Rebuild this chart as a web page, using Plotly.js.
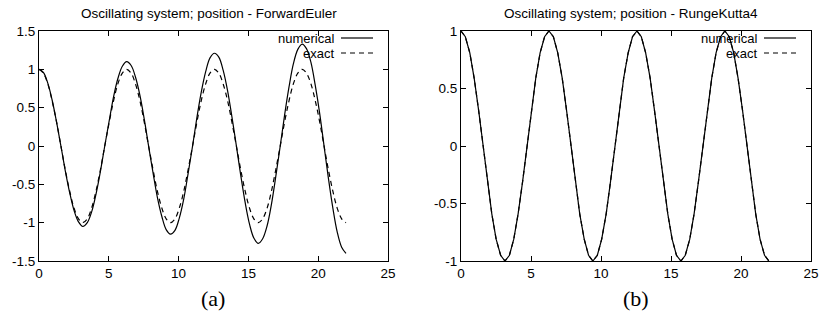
<!DOCTYPE html>
<html>
<head>
<meta charset="utf-8">
<script src="https://cdn.plot.ly/plotly-3.0.1.min.js"></script>
<style>html,body{margin:0;padding:0;background:#fff;}#chart{width:821px;height:322px;}</style>
</head>
<body>
<div id="chart"></div>
<script>
// time samples
const t = [0, 0.31, 0.63, 0.94, 1.26, 1.57, 1.88, 2.20, 2.51, 2.83,
  3.14, 3.46, 3.77, 4.08, 4.40, 4.71, 5.03, 5.34, 5.65, 5.97,
  6.28, 6.60, 6.91, 7.23, 7.54, 7.85, 8.17, 8.48, 8.80, 9.11,
  9.42, 9.74, 10.05, 10.37, 10.68, 11.00, 11.31, 11.62, 11.94, 12.25,
  12.57, 12.88, 13.19, 13.51, 13.82, 14.14, 14.45, 14.77, 15.08, 15.39,
  15.71, 16.02, 16.34, 16.65, 16.96, 17.28, 17.59, 17.91, 18.22, 18.54,
  18.85, 19.16, 19.48, 19.79, 20.11, 20.42, 20.73, 21.05, 21.36, 21.68, 21.99];

// exact solution (dashed)
const exact = [1.00, 0.95, 0.81, 0.59, 0.31, 0.00, -0.31, -0.59, -0.81, -0.95,
  -1.00, -0.95, -0.81, -0.59, -0.31, 0.00, 0.31, 0.59, 0.81, 0.95,
  1.00, 0.95, 0.81, 0.59, 0.31, 0.00, -0.31, -0.59, -0.81, -0.95,
  -1.00, -0.95, -0.81, -0.59, -0.31, 0.00, 0.31, 0.59, 0.81, 0.95,
  1.00, 0.95, 0.81, 0.59, 0.31, 0.00, -0.31, -0.59, -0.81, -0.95,
  -1.00, -0.95, -0.81, -0.59, -0.31, 0.00, 0.31, 0.59, 0.81, 0.95,
  1.00, 0.95, 0.81, 0.59, 0.31, 0.00, -0.31, -0.59, -0.81, -0.95, -1.00];

// Forward Euler numerical solution (growing amplitude)
const euler = [1.00, 0.96, 0.82, 0.60, 0.31, 0.00, -0.32, -0.61, -0.84, -0.99,
  -1.05, -1.00, -0.86, -0.63, -0.33, 0.00, 0.33, 0.64, 0.88, 1.04,
  1.10, 1.05, 0.90, 0.66, 0.35, 0.00, -0.35, -0.67, -0.92, -1.09,
  -1.15, -1.10, -0.94, -0.69, -0.36, 0.00, 0.37, 0.70, 0.97, 1.15,
  1.21, 1.16, 0.99, 0.72, 0.38, 0.00, -0.38, -0.74, -1.02, -1.20,
  -1.27, -1.21, -1.04, -0.76, -0.40, 0.00, 0.40, 0.77, 1.07, 1.26,
  1.33, 1.27, 1.09, 0.79, 0.42, 0.00, -0.42, -0.81, -1.12, -1.32, -1.40];

// RungeKutta4 numerical solution
const rk4 = [1.00, 0.95, 0.81, 0.59, 0.31, 0.00, -0.31, -0.59, -0.81, -0.95,
  -1.00, -0.95, -0.81, -0.59, -0.31, 0.00, 0.31, 0.59, 0.81, 0.95,
  1.00, 0.95, 0.81, 0.59, 0.31, 0.00, -0.31, -0.59, -0.81, -0.95,
  -1.00, -0.95, -0.81, -0.59, -0.31, 0.00, 0.31, 0.59, 0.81, 0.95,
  1.00, 0.95, 0.81, 0.59, 0.31, 0.00, -0.31, -0.59, -0.81, -0.95,
  -1.00, -0.95, -0.81, -0.59, -0.31, 0.00, 0.31, 0.59, 0.81, 0.95,
  1.00, 0.95, 0.81, 0.59, 0.31, 0.00, -0.31, -0.59, -0.81, -0.95, -1.00];

const yTicksA = [-1.5, -1, -0.5, 0, 0.5, 1, 1.5];
const yTextA = ['-1.5', '-1', '-0.5', '0', '0.5', '1', '1.5'];
const yTicksB = [-1, -0.5, 0, 0.5, 1];
const yTextB = ['-1', '-0.5', '0', '0.5', '1'];
const xTicks = [0, 5, 10, 15, 20, 25];

const titles = ['Oscillating system; position - ForwardEuler', 'Oscillating system; position - RungeKutta4'];
const captions = ['(a)', '(b)'];
const legendNames = ['numerical', 'exact'];

const W = 821, H = 322, MT = 31, MB = 61;
const PH = H - MT - MB;
const px = v => v / W;
const py = v => (H - MB - v) / PH;

const sans = 'Liberation Sans, Arial, Helvetica, sans-serif';
const tf = {family: sans, size: 13.5, color: '#000'};
const lf = {family: sans, size: 13, color: '#000'};

const solid = {color: '#000', width: 1.2};
const dashed = {color: '#000', width: 1.2, dash: '5px,4px'};

const data = [
  {x: t, y: euler, xaxis: 'x', yaxis: 'y', mode: 'lines', line: Object.assign({shape: 'spline'}, solid), name: legendNames[0]},
  {x: t, y: exact, xaxis: 'x', yaxis: 'y', mode: 'lines', line: Object.assign({shape: 'spline'}, dashed), name: legendNames[1]},
  {x: t, y: rk4, xaxis: 'x2', yaxis: 'y2', mode: 'lines', line: solid, name: legendNames[0]},
  {x: t, y: exact, xaxis: 'x2', yaxis: 'y2', mode: 'lines', line: dashed, name: legendNames[1]}
];

const axBase = {
  ticks: 'inside', ticklen: 5, tickwidth: 1, tickcolor: '#000',
  mirror: 'ticks', showline: true, linecolor: '#000', linewidth: 1,
  showgrid: false, zeroline: false, tickfont: tf, fixedrange: true
};

const dom = [[39, 388], [461, 811]];

const layout = {
  width: W, height: H,
  margin: {l: 0, r: 0, t: MT, b: MB},
  paper_bgcolor: '#fff', plot_bgcolor: '#fff',
  showlegend: false,
  xaxis: Object.assign({}, axBase, {domain: [px(dom[0][0]), px(dom[0][1])], range: [0, 25], tickvals: xTicks, anchor: 'y'}),
  yaxis: Object.assign({}, axBase, {range: [-1.5, 1.5], tickvals: yTicksA, ticktext: yTextA, anchor: 'x'}),
  xaxis2: Object.assign({}, axBase, {domain: [px(dom[1][0]), px(dom[1][1])], range: [0, 25], tickvals: xTicks, anchor: 'y2'}),
  yaxis2: Object.assign({}, axBase, {range: [-1, 1], tickvals: yTicksB, ticktext: yTextB, anchor: 'x2'}),
  annotations: [],
  shapes: []
};

for (let i = 0; i < 2; i++) {
  const cx = (dom[i][0] + dom[i][1]) / 2 - 5;
  layout.annotations.push({xref: 'paper', yref: 'paper', x: px(cx), y: py(14), text: titles[i], showarrow: false,
    xanchor: 'center', yanchor: 'middle', font: {family: sans, size: 13.5, color: '#000'}});
  layout.annotations.push({xref: 'paper', yref: 'paper', x: px(cx + 5), y: py(298), text: captions[i], showarrow: false,
    xanchor: 'center', yanchor: 'middle', font: {family: 'Liberation Serif, DejaVu Serif, serif', size: 22, color: '#000'}});
  const right = dom[i][1];
  const rows = [38, 53];
  for (let j = 0; j < 2; j++) {
    layout.annotations.push({xref: 'paper', yref: 'paper', x: px(right - 53), y: py(rows[j]), text: legendNames[j], showarrow: false,
      xanchor: 'right', yanchor: 'middle', font: lf, borderpad: 0});
    layout.shapes.push({type: 'line', xref: 'paper', yref: 'paper', x0: px(right - 47), x1: px(right - 15), y0: py(rows[j]), y1: py(rows[j]),
      line: j === 0 ? {color: '#000', width: 1.2} : {color: '#000', width: 1.2, dash: '5px,4px'}});
  }
}

Plotly.newPlot('chart', data, layout, {staticPlot: true, displayModeBar: false});
</script>
</body>
</html>
